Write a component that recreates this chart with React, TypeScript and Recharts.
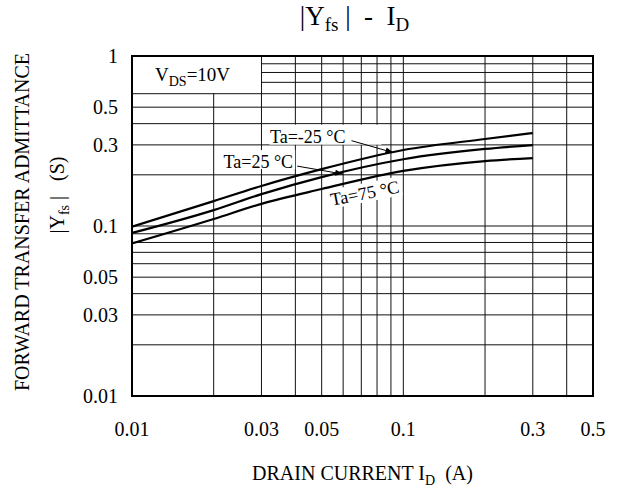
import { LineChart, Line, XAxis, YAxis, ReferenceLine, ReferenceArea, ReferenceDot, Label } from 'recharts';

// drain current I_D (A)
const currents = [0.01, 0.02, 0.03, 0.05, 0.1, 0.2, 0.3];
// |Yfs| (S) per ambient temperature
const yfsMinus25 = [0.099, 0.14, 0.172, 0.216, 0.28, 0.325, 0.352];
const yfs25 = [0.091, 0.124, 0.154, 0.194, 0.247, 0.284, 0.299];
const yfs75 = [0.079, 0.11, 0.135, 0.165, 0.211, 0.241, 0.251];

const xTicks = [0.01, 0.03, 0.05, 0.1, 0.3, 0.5];
const yTicks = [0.01, 0.03, 0.05, 0.1, 0.3, 0.5, 1];
const xGrid = [0.02, 0.03, 0.04, 0.05, 0.06, 0.07, 0.08, 0.09, 0.1, 0.2, 0.3, 0.4];
const yGrid = [0.02, 0.03, 0.04, 0.05, 0.06, 0.07, 0.08, 0.09, 0.1, 0.2, 0.3, 0.4, 0.5, 0.6, 0.7, 0.8, 0.9];

const data = currents.map((id, i) => ({
  id,
  m25: yfsMinus25[i],
  p25: yfs25[i],
  p75: yfs75[i],
}));

const FONT = 'Liberation Serif, Times New Roman, serif';

const fmt = (v: number) => String(v);

function XTitle(props: any) {
  const vb = props.viewBox;
  return (
    <text x={vb.x + vb.width / 2} y={vb.y + 84} textAnchor="middle" fontFamily={FONT} fontSize={20} fill="#000">
      DRAIN CURRENT I<tspan fontSize={14} dy={5}>D</tspan>
      <tspan dy={-5}>{'\u00a0\u00a0(A)'}</tspan>
    </text>
  );
}

function YTitle(props: any) {
  const vb = props.viewBox;
  return (
    <g fontFamily={FONT} fontSize={20} fill="#000">
      <text transform={`translate(29, ${vb.y + 166}) rotate(-90)`} textAnchor="middle">
        FORWARD TRANSFER ADMITTANCE
      </text>
      <text transform={`translate(64, ${vb.y + 139}) rotate(-90)`} textAnchor="middle">
        |Y<tspan fontSize={14} dy={5}>fs</tspan>
        <tspan dy={-5}>{'\u00a0|\u00a0\u00a0\u00a0(S)'}</tspan>
      </text>
    </g>
  );
}

const arrowHead = (x: number, y: number, fx: number, fy: number) => {
  const a = Math.atan2(y - fy, x - fx);
  const l = 8;
  const w = 3;
  const bx = x - l * Math.cos(a);
  const by = y - l * Math.sin(a);
  return `${x},${y} ${bx - w * Math.sin(a)},${by + w * Math.cos(a)} ${bx + w * Math.sin(a)},${by - w * Math.cos(a)}`;
};

function TaMinus25(p: any) {
  const { cx, cy } = p;
  const sx = cx - 42;
  const sy = cy - 12;
  return (
    <g>
      <rect x={cx - 124} y={cy - 28} width={112} height={20} fill="#fff" />
      <text x={cx - 48} y={cy - 10} textAnchor="end" fontFamily={FONT} fontSize={18} fill="#000">
        Ta=-25 °C
      </text>
      <line x1={sx} y1={sy} x2={cx} y2={cy} stroke="#000" strokeWidth={1} />
      <polygon points={arrowHead(cx, cy, sx, sy)} fill="#000" />
    </g>
  );
}

function Ta25(p: any) {
  const { cx, cy } = p;
  const sx = cx - 46;
  const sy = cy - 8;
  return (
    <g>
      <rect x={cx - 124} y={cy - 24} width={76} height={19} fill="#fff" />
      <text x={cx - 50} y={cy - 6} textAnchor="end" fontFamily={FONT} fontSize={18} fill="#000">
        Ta=25 °C
      </text>
      <line x1={sx} y1={sy} x2={cx} y2={cy} stroke="#000" strokeWidth={1} />
      <polygon points={arrowHead(cx, cy, sx, sy)} fill="#000" />
    </g>
  );
}

function Ta75(p: any) {
  const { cx, cy } = p;
  return (
    <g transform={`translate(${cx}, ${cy}) rotate(-11)`}>
      <rect x={-37} y={-9} width={74} height={19} fill="#fff" />
      <text x={0} y={7} textAnchor="middle" fontFamily={FONT} fontSize={18} fill="#000">
        Ta=75 °C
      </text>
    </g>
  );
}

function Vds(p: any) {
  const { cx, cy } = p;
  return (
    <g>
      <rect x={cx + 1} y={cy + 1} width={128} height={36} fill="#fff" />
      <text x={cx + 23} y={cy + 25} fontFamily={FONT} fontSize={19} fill="#000">
        V<tspan fontSize={14} dy={5}>DS</tspan>
        <tspan dy={-5}>=10V</tspan>
      </text>
    </g>
  );
}

export default function App() {
  return (
    <div style={{ position: 'absolute', left: 0, top: 0, width: 623, height: 490, background: '#fff' }}>
      <div
        style={{
          position: 'absolute',
          left: 43,
          width: 623,
          top: 1,
          textAlign: 'center',
          fontFamily: FONT,
          fontSize: 27,
          color: '#000',
          whiteSpace: 'pre',
        }}
      >
        {'|Y'}
        <sub style={{ fontSize: 19, verticalAlign: '-6px' }}>fs</sub>
        {' |  -  I'}
        <sub style={{ fontSize: 19, verticalAlign: '-6px' }}>D</sub>
      </div>
      <LineChart width={623} height={490} data={data} margin={{ top: 56, right: 30, left: 0, bottom: 0 }}>
        <XAxis
          dataKey="id"
          type="number"
          scale="log"
          domain={[0.01, 0.5]}
          allowDataOverflow
          ticks={xTicks}
          tickFormatter={fmt}
          height={94}
          tickLine={false}
          axisLine={false}
          tickMargin={20}
          tick={{ fill: '#000', fontSize: 20, fontFamily: FONT }}
        >
          <Label content={XTitle} />
        </XAxis>
        <YAxis
          type="number"
          scale="log"
          domain={[0.01, 1]}
          allowDataOverflow
          ticks={yTicks}
          tickFormatter={fmt}
          width={132}
          tickLine={false}
          axisLine={false}
          tickMargin={8}
          tick={{ fill: '#000', fontSize: 20, fontFamily: FONT }}
        >
          <Label content={YTitle} />
        </YAxis>
        {xGrid.map((v) => (
          <ReferenceLine key={'x' + v} x={v} stroke="#111" strokeWidth={1} />
        ))}
        {yGrid.map((v) => (
          <ReferenceLine key={'y' + v} y={v} stroke="#111" strokeWidth={1} />
        ))}
        <ReferenceDot x={0.01} y={1} r={0} shape={Vds} />
        <ReferenceDot x={0.092} y={0.27} r={0} shape={TaMinus25} />
        <ReferenceDot x={0.06} y={0.202} r={0} shape={Ta25} />
        <ReferenceDot x={0.072} y={0.158} r={0} shape={Ta75} />
        <Line type="monotone" dataKey="m25" stroke="#000" strokeWidth={2.2} dot={false} isAnimationActive={false} zIndex={1000} />
        <Line type="monotone" dataKey="p25" stroke="#000" strokeWidth={2.2} dot={false} isAnimationActive={false} zIndex={1000} />
        <Line type="monotone" dataKey="p75" stroke="#000" strokeWidth={2.2} dot={false} isAnimationActive={false} zIndex={1000} />
        <ReferenceArea x1={0.01} x2={0.5} y1={0.01} y2={1} fill="none" stroke="#000" strokeWidth={2} ifOverflow="visible" zIndex={1100} />
      </LineChart>
    </div>
  );
}
